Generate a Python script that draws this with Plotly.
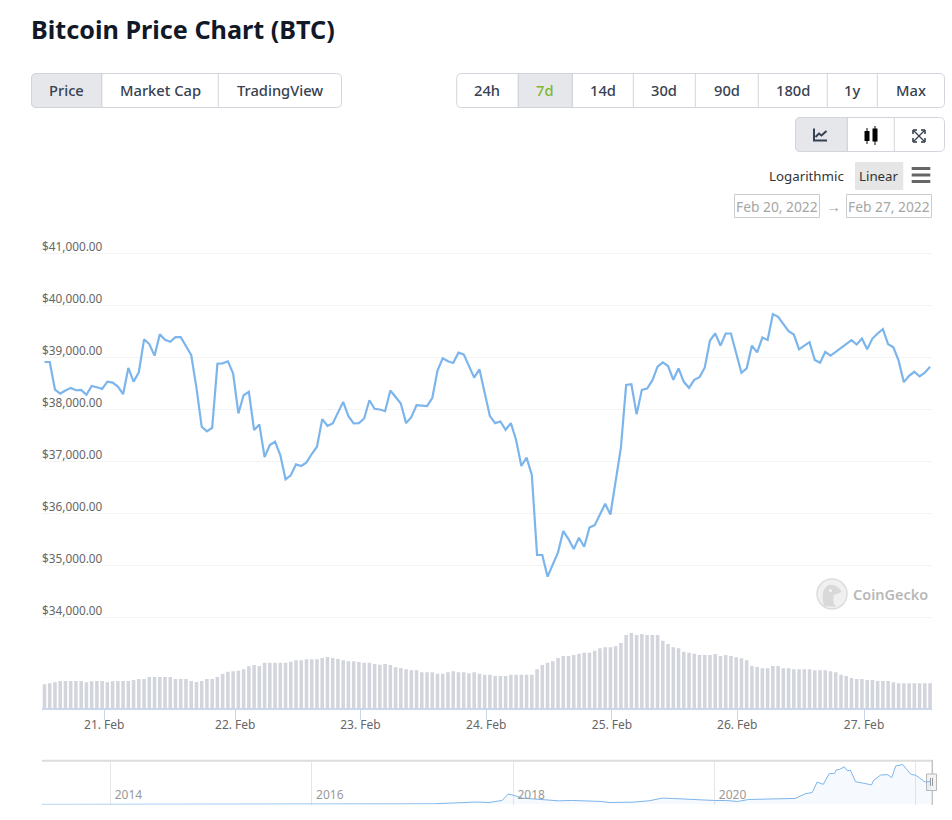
import plotly.graph_objects as go

# hourly BTC price, Feb 20 - Feb 27 2022
prices = [
    38904, 38904, 38374, 38297, 38355, 38406, 38361, 38367, 38272, 38444,
    38418, 38387, 38527, 38508, 38431, 38284, 38789, 38527, 38706, 39339,
    39249, 39026, 39435, 39332, 39294, 39383, 39383, 39204, 39038, 38406,
    37658, 37569, 37639, 38872, 38879, 38917, 38680, 37914, 38265, 38329,
    37594, 37703, 37077, 37307, 37371, 37115, 36648, 36725, 36936, 36904,
    36974, 37134, 37275, 37805, 37677, 37722, 37939, 38137, 37863, 37722,
    37728, 37818, 38169, 38003, 37990, 37958, 38355, 38233, 38105, 37728,
    37843, 38073, 38067, 38054, 38208, 38738, 38974, 38917, 38885, 39083,
    39051, 38821, 38604, 38764, 38278, 37863, 37728, 37760, 37601, 37728,
    37403, 36904, 37064, 36732, 35192, 35192, 34776, 35019, 35243, 35652,
    35498, 35307, 35524, 35351, 35722, 35767, 35965, 36176, 35971, 36585,
    37255, 38463, 38476, 37897, 38368, 38394, 38549, 38813, 38897, 38826,
    38561, 38781, 38523, 38407, 38561, 38613, 38794, 39316, 39452, 39219,
    39452, 39452, 39077, 38697, 38781, 39219, 39090, 39374, 39329, 39826,
    39774, 39639, 39497, 39432, 39148, 39219, 39284, 38942, 38890, 39097,
    39026, 39097, 39174, 39245, 39323, 39239, 39355, 39148, 39355, 39452,
    39535, 39245, 39187, 38929, 38516, 38639, 38716, 38626, 38697, 38813,
]

# relative volume, no scale is shown in the chart
volumes = [
    72, 75, 78, 82, 82, 82, 82, 82, 78, 81,
    82, 82, 78, 81, 82, 82, 82, 85, 88, 88,
    94, 94, 94, 94, 94, 88, 88, 88, 82, 79,
    82, 88, 88, 94, 104, 110, 111, 113, 117, 126,
    130, 127, 137, 137, 137, 137, 137, 140, 144, 144,
    147, 147, 147, 151, 154, 151, 148, 144, 141, 141,
    139, 137, 137, 133, 131, 133, 130, 123, 121, 117,
    114, 114, 108, 108, 108, 104, 104, 108, 111, 108,
    108, 105, 108, 104, 101, 101, 97, 97, 97, 101,
    101, 101, 101, 101, 117, 130, 137, 141, 151, 157,
    157, 160, 164, 167, 167, 173, 180, 183, 183, 186,
    196, 220, 226, 220, 223, 220, 220, 220, 203, 193,
    183, 180, 170, 167, 164, 160, 160, 160, 163, 157,
    160, 157, 153, 150, 144, 127, 124, 120, 120, 127,
    127, 120, 120, 117, 117, 117, 117, 114, 114, 114,
    111, 108, 101, 97, 91, 88, 88, 85, 85, 82,
    82, 82, 78, 75, 75, 75, 75, 75, 75, 75,
]

hour_index = list(range(len(prices)))

price_ticks = [34000, 35000, 36000, 37000, 38000, 39000, 40000, 41000]
price_tick_labels = ["$34,000.00", "$35,000.00", "$36,000.00", "$37,000.00",
                     "$38,000.00", "$39,000.00", "$40,000.00", "$41,000.00"]

day_ticks = [11.4, 36.4, 60.3, 84.3, 108.3, 132.2, 156.4]
day_labels = ["21. Feb", "22. Feb", "23. Feb", "24. Feb", "25. Feb", "26. Feb", "27. Feb"]

# navigator: whole history of the price
nav_years = [
    2013.32, 2013.7, 2013.92, 2014.0, 2014.2, 2014.5, 2014.9, 2015.1, 2015.5, 2015.9,
    2016.0, 2016.5, 2016.9, 2017.0, 2017.2, 2017.4, 2017.63, 2017.76, 2017.89, 2017.95,
    2018.0, 2018.09, 2018.22, 2018.32, 2018.45, 2018.59, 2018.75, 2018.88, 2018.95, 2019.18,
    2019.35, 2019.48, 2019.58, 2019.75, 2019.88, 2020.0, 2020.11, 2020.23, 2020.34, 2020.57,
    2020.67, 2020.8, 2020.9, 2020.97, 2021.02, 2021.08, 2021.14, 2021.19, 2021.21, 2021.24,
    2021.29, 2021.32, 2021.35, 2021.4, 2021.47, 2021.56, 2021.58, 2021.65, 2021.72, 2021.76,
    2021.8, 2021.87, 2021.95, 2022.0, 2022.09, 2022.15,
]
nav_prices = [
    130, 130, 1000, 750, 450, 620, 350, 230, 280, 400,
    430, 650, 750, 1000, 1100, 2500, 4200, 3400, 6750, 17450,
    15760, 10700, 9000, 8450, 6200, 6750, 6200, 5100, 3400, 3900,
    6200, 10700, 10100, 8450, 7500, 6750, 6750, 5100, 8450, 9600,
    10700, 10100, 17900, 20200, 37700, 33800, 52000, 52000, 58200, 58800,
    63300, 56500, 57600, 38300, 36000, 33000, 40400, 49500, 50100, 45000,
    64800, 67000, 50700, 49000, 38000, 38500,
]
nav_ticks = [2014, 2016, 2018, 2020, 2022]
nav_tick_labels = ["2014", "2016", "2018", "2020", ""]

W, H = 952, 820
FONT = "Noto Sans"
LINE = "#7cb5ec"
BORDER = "#d1d5db"
ACTIVE = "#e5e7eb"
BTN_TEXT = "#374151"


def px(x):
    return x / W


def py(y):
    return 1 - y / H


def rounded(x0, y0, x1, y1, left=5, right=5):
    # path for a box with rounded corners, given in page pixels
    return (f"M {px(x0 + left)} {py(y0)} L {px(x1 - right)} {py(y0)} "
            f"Q {px(x1)} {py(y0)} {px(x1)} {py(y0 + right)} L {px(x1)} {py(y1 - right)} "
            f"Q {px(x1)} {py(y1)} {px(x1 - right)} {py(y1)} L {px(x0 + left)} {py(y1)} "
            f"Q {px(x0)} {py(y1)} {px(x0)} {py(y1 - left)} L {px(x0)} {py(y0 + left)} "
            f"Q {px(x0)} {py(y0)} {px(x0 + left)} {py(y0)} Z")


shapes = []
annotations = []


def add_text(text, x, y, size=14.7, color=BTN_TEXT, anchor="center", weight=None):
    annotations.append(dict(text=text, x=px(x), y=py(y), xref="paper", yref="paper",
                            xanchor=anchor, yanchor="middle", showarrow=False,
                            font=dict(family=FONT, size=size, color=color, weight=weight)))


def add_rect(x0, y0, x1, y1, fill="rgba(0,0,0,0)", line=None, width=1):
    shapes.append(dict(type="rect", xref="paper", yref="paper", x0=px(x0), x1=px(x1),
                       y0=py(y0), y1=py(y1), fillcolor=fill, layer="below",
                       line=dict(color=line or fill, width=width if line else 0)))


def add_path(path, fill="rgba(0,0,0,0)", line=None, width=1):
    shapes.append(dict(type="path", xref="paper", yref="paper", path=path, fillcolor=fill,
                       layer="below", line=dict(color=line or fill, width=width if line else 0)))


def add_line(x0, y0, x1, y1, color=BORDER, width=1):
    shapes.append(dict(type="line", xref="paper", yref="paper", x0=px(x0), x1=px(x1),
                       y0=py(y0), y1=py(y1), layer="below", line=dict(color=color, width=width)))


def button_group(y0, y1, edges, labels, active, active_color=BTN_TEXT):
    add_path(rounded(edges[0], y0, edges[-1], y1), fill="white", line=BORDER)
    if active == 0:
        add_path(f"M {px(edges[0] + 5)} {py(y0)} L {px(edges[1])} {py(y0)} L {px(edges[1])} {py(y1)} "
                 f"L {px(edges[0] + 5)} {py(y1)} Q {px(edges[0])} {py(y1)} {px(edges[0])} {py(y1 - 5)} "
                 f"L {px(edges[0])} {py(y0 + 5)} Q {px(edges[0])} {py(y0)} {px(edges[0] + 5)} {py(y0)} Z",
                 fill=ACTIVE, line=BORDER)
    else:
        add_rect(edges[active], y0, edges[active + 1], y1, fill=ACTIVE, line=BORDER)
    for e in edges[1:-1]:
        add_line(e, y0, e, y1)
    for i, label in enumerate(labels):
        c = active_color if i == active else BTN_TEXT
        add_text(label, (edges[i] + edges[i + 1]) / 2, (y0 + y1) / 2, color=c, weight=500)


fig = go.Figure()

# price line
fig.add_trace(go.Scatter(x=hour_index, y=prices, mode="lines", xaxis="x", yaxis="y",
                         line=dict(color=LINE, width=2.2), hoverinfo="skip"))

# volume bars
fig.add_trace(go.Bar(x=hour_index, y=volumes, xaxis="x2", yaxis="y2", width=0.68,
                     marker=dict(color="#d3d5dc", line=dict(width=0)), hoverinfo="skip"))

# navigator
fig.add_trace(go.Scatter(x=nav_years, y=nav_prices, mode="lines", xaxis="x3", yaxis="y3",
                         line=dict(color=LINE, width=1), fill="tozeroy",
                         fillcolor="rgba(124,181,236,0.07)", hoverinfo="skip"))

# title
add_text("Bitcoin Price Chart (BTC)", 29, 29, size=25.2, color="#111827", anchor="left", weight=700)

# buttons
button_group(73.5, 107.5, [31.5, 101.7, 218.3, 341.5],
             ["Price", "Market Cap", "TradingView"], 0)
button_group(73.5, 107.5, [456.7, 518.3, 572.3, 633.3, 695.3, 758.3, 827.3, 877.3, 944.5],
             ["24h", "7d", "14d", "30d", "90d", "180d", "1y", "Max"], 1, active_color="#7cb82f")
button_group(117.5, 151.5, [795.5, 847.3, 894.3, 944.5], ["", "", ""], 0)

# line chart icon
add_line(814, 128.5, 814, 140.5, "#374151", 2)
add_line(813, 140.5, 827, 140.5, "#374151", 2)
add_path(f"M {px(815.5)} {py(137)} L {px(819)} {py(133.5)} L {px(821.5)} {py(135.5)} L {px(826.5)} {py(131)}",
         line="#374151", width=2)

# candle icon
add_line(867, 128, 867, 144, "#000000", 1)
add_rect(864.5, 131, 869.5, 141, fill="#000000")
add_line(875, 126, 875, 145, "#000000", 1)
add_rect(872.5, 128.5, 877.5, 141.5, fill="#000000")

# fullscreen icon
for x0, y0, x1, y1 in [(913.5, 130.5, 924.5, 141.5), (924.5, 130.5, 913.5, 141.5)]:
    add_line(x0, y0, x1, y1, "#374151", 1.3)
for cx, cy, dx, dy in [(913, 130, 1, 1), (925, 130, -1, 1), (913, 142, 1, -1), (925, 142, -1, -1)]:
    add_line(cx, cy, cx + 4 * dx, cy, "#374151", 1.6)
    add_line(cx, cy, cx, cy + 4 * dy, "#374151", 1.6)

# scale switch and menu
add_text("Logarithmic", 806.3, 176, size=13.3, color="#333333")
add_rect(855, 162, 903.3, 190, fill="#e6e6e6")
add_text("Linear", 879, 176, size=13.3, color="#333333")
for y in [168.5, 175, 181.5]:
    add_line(911.7, y, 930.3, y, "#666666", 3)

# date range boxes
add_rect(734.5, 194.5, 819.5, 217.5, fill="white", line="#cccccc")
add_text("Feb 20, 2022", 777, 206, size=13.8, color="#a6a6a6")
add_text("→", 833, 206, size=15, color="#a6a6a6")
add_rect(846.5, 194.5, 931.5, 217.5, fill="white", line="#cccccc")
add_text("Feb 27, 2022", 889, 206, size=13.8, color="#a6a6a6")

# CoinGecko watermark
shapes.append(dict(type="circle", xref="paper", yref="paper", x0=px(817), x1=px(847), y0=py(579), y1=py(609),
                   fillcolor="#f0f0f0", layer="below", line=dict(color="#dddddd", width=1.5)))
add_path(f"M {px(824)} {py(606)} Q {px(820)} {py(592)} {px(827)} {py(586)} Q {px(835)} {py(582)} {px(842)} {py(592)} "
         f"L {px(834)} {py(595)} Q {px(832)} {py(602)} {px(836)} {py(607)} Z", fill="#d9d9d9")
shapes.append(dict(type="circle", xref="paper", yref="paper", x0=px(829), x1=px(832), y0=py(589), y1=py(592),
                   fillcolor="#f5f5f5", layer="below", line=dict(width=0)))
add_text("CoinGecko", 890.5, 594, size=14.5, color="#b8b8b8", weight=600)

# navigator frame and handle
add_line(42, 760.8, 933, 760.8, "#dddddd", 2)
add_line(932.3, 760, 932.3, 805, "#c4c4c4", 1.5)
add_rect(926.5, 774, 936.5, 790.5, fill="#f2f2f2", line="#b8b8b8")
add_line(930.5, 778, 930.5, 786, "#999999", 1)
add_line(932.5, 778, 932.5, 786, "#999999", 1)

# hours run from left to right, 5.24 px each, first one at 44.5 px
hour_range = [(42 - 44.5) / 5.24, (932 - 44.5) / 5.24]
axis_font = dict(family=FONT, size=11.8, color="#666666")

fig.update_layout(
    width=W, height=H,
    margin=dict(l=0, r=0, t=0, b=0),
    paper_bgcolor="white", plot_bgcolor="rgba(0,0,0,0)",
    showlegend=False, hovermode=False,
    shapes=shapes, annotations=annotations,
    xaxis=dict(domain=[px(42), px(932)], range=hour_range, anchor="y", visible=False),
    # half a step of room at both ends, inside labels at the very edge get dropped
    yaxis=dict(domain=[py(643), py(227)], range=[33500, 41500], anchor="x",
               tickvals=price_ticks, ticktext=price_tick_labels, ticklabelposition="inside",
               ticklabelshift=-6, ticklabelstandoff=-3, tickfont=axis_font,
               showgrid=True, gridcolor="#f3f3f3", gridwidth=1,
               zeroline=False, showline=False, ticks=""),
    xaxis2=dict(domain=[px(42), px(932)], range=hour_range, anchor="y2",
                tickvals=day_ticks, ticktext=day_labels, ticks="outside", ticklen=10,
                ticklabelstandoff=-5,
                tickcolor="#ccd6eb", tickwidth=1, showline=True, linecolor="#ccd6eb", linewidth=1.5,
                showgrid=False, zeroline=False, tickfont=dict(family=FONT, size=12, color="#666666")),
    yaxis2=dict(domain=[py(708.3), py(628.3)], range=[0, 240], anchor="x2", visible=False),
    xaxis3=dict(domain=[px(42), px(932)], range=[2013.32, 2022.16], anchor="y3",
                tickvals=nav_ticks, ticktext=nav_tick_labels, ticklabelposition="inside",
                ticklabelshift=18, tickfont=dict(family=FONT, size=12, color="#999999"),
                showgrid=True, gridcolor="#e6e6e6", gridwidth=1, zeroline=False, showline=False, ticks=""),
    yaxis3=dict(domain=[py(804.5), py(761)], range=[0, 73000], anchor="x3", visible=False),
)

fig.write_html("out.html", config={"displayModeBar": False},
               post_script="document.body.style.margin='0';document.body.style.overflow='hidden';")
